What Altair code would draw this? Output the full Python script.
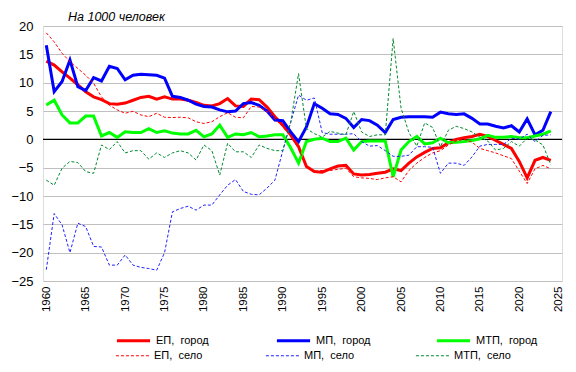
import altair as alt
import pandas as pd

years = list(range(1960, 2025))

ep_gorod = [13.8, 13.1, 11.9, 10.8, 9.6, 8.4, 7.5, 7.0, 6.3, 6.2,
            6.4, 6.9, 7.4, 7.6, 7.1, 7.5, 7.1, 7.1, 6.9, 6.5,
            6.0, 5.9, 6.3, 7.2, 5.9, 5.8, 7.1, 7.0, 5.7, 4.0,
            2.5, 0.8, -1.3, -4.8, -5.7, -5.8, -5.2, -4.7, -4.6, -6.1,
            -6.3, -6.2, -6.0, -5.8, -5.2, -5.5, -4.2, -3.1, -2.3, -1.6,
            -1.5, -0.6, 0.0, 0.3, 0.5, 0.9, 0.5, -0.2, -0.9, -1.6,
            -3.9, -6.8, -3.7, -3.2, -3.7]

ep_selo = [18.8, 17.2, 15.2, 13.7, 12.5, 11.3, 9.9, 7.5, 6.0, 5.2,
           4.6, 4.95, 4.3, 4.0, 4.6, 3.9, 3.85, 3.9, 3.8, 3.1,
           2.8, 3.1, 4.0, 4.7, 3.9, 3.8, 5.8, 5.7, 4.9, 3.6,
           2.2, 0.5, -1.6, -5.0, -5.6, -5.5, -5.5, -5.3, -5.1, -6.6,
           -6.8, -6.9, -7.1, -6.8, -6.6, -7.5, -5.5, -4.2, -3.2, -2.4,
           -2.0, -1.0, -0.3, 0.0, -0.5, -1.6, -2.0, -2.4, -2.9, -3.4,
           -5.6, -7.8, -5.2, -4.6, -5.2]

mp_gorod = [16.6, 8.4, 10.2, 14.0, 9.3, 8.6, 10.9, 10.3, 12.9, 12.5,
            10.5, 11.3, 11.5, 11.4, 11.3, 10.8, 7.6, 7.4, 6.9, 6.2,
            5.8, 5.7, 5.2, 4.85, 5.0, 6.3, 6.5, 6.0, 5.0, 3.4,
            3.3, 1.3, -0.4, 2.2, 6.3, 5.5, 4.5, 4.4, 3.7, 2.1,
            3.5, 3.3, 2.5, 1.2, 3.5, 3.9, 4.0, 4.0, 4.0, 3.9,
            4.8, 4.5, 4.4, 4.5, 3.7, 2.7, 2.7, 2.3, 2.0, 2.4,
            1.3, 3.6, 0.8, 1.6, 4.9]

mp_selo = [-23.0, -13.1, -15.1, -20.0, -14.8, -15.4, -18.9, -19.0, -22.2, -22.2,
           -20.4, -22.2, -22.6, -22.8, -23.1, -20.0, -12.8, -12.2, -11.8, -12.5,
           -11.6, -11.6, -9.8, -8.1, -7.1, -9.2, -9.7, -9.8, -8.6, -7.2,
           -2.0, 3.0, 7.8, 6.9, 7.3, 1.2, 0.9, 0.9, 0.9, 1.0,
           -0.4, -1.2, -1.1, -2.0, -3.0, -3.0, -2.8, -1.3, -1.3, -1.4,
           -6.0, -4.2, -4.2, -4.6, -3.1, -1.2, -0.9, -0.9, -0.9, 0.2,
           0.05, 0.9, -0.4, 0.7, 0.8]

mtp_gorod = [6.05, 6.9, 4.3, 2.9, 2.9, 4.1, 4.1, 0.6, 1.2, 0.35,
             1.35, 1.2, 1.2, 1.9, 1.2, 1.5, 1.1, 0.95, 0.95, 1.6,
             0.45, 0.95, 2.5, 0.35, 0.95, 0.8, 1.2, 0.45, 0.6, 0.8,
             0.8, -1.5, -4.2, -0.4, 0.0, 0.2, -0.4, -0.4, 0.2, -1.9,
             -0.4, -0.3, -0.3, -0.3, -6.6, -1.9, -0.4, 0.5, -0.8, -0.6,
             0.2, -0.6, -0.5, -0.4, -0.2, 0.1, 0.7, 0.35, 0.35, 0.5,
             0.3, 0.3, 0.6, 0.9, 1.5]

mtp_selo = [-7.2, -8.1, -5.1, -3.9, -4.1, -5.7, -6.0, -1.0, -1.8, -0.4,
            -2.4, -2.0, -2.0, -3.5, -2.4, -3.2, -2.4, -2.0, -2.4, -3.65,
            -1.0, -2.0, -6.3, -0.7, -2.2, -2.2, -3.2, -1.0, -1.6, -2.0,
            -2.0, 3.0, 11.6, 1.9, 1.0, 0.4, 1.4, 1.1, 0.8, 4.9,
            1.3, 0.5, 0.8, 0.8, 17.8, 5.5, 1.2, -1.2, 2.9, 2.1,
            -1.3, 1.6, 2.3, 1.9, 1.3, 0.4, -0.3, -1.9, -1.6, -0.4,
            -1.2, 0.2, -0.1, -1.0, -4.5]

NB = "\u00a0"
names_gorod = ["ЕП," + NB + " город", "МП," + NB + " город", "МТП," + NB + " город"]
names_selo = ["ЕП," + NB + " село", "МП," + NB + " село", "МТП," + NB + " село"]
colors_gorod = ["#ff0000", "#0000ff", "#00ff00"]
colors_selo = ["#ff0000", "#2020ff", "#008a30"]

y_ticks = list(range(-25, 25, 5))
x_ticks = list(range(1960, 2030, 5))

def long(names, arrays):
    rows = []
    for n, arr in zip(names, arrays):
        for yr, v in zip(years, arr):
            rows.append({"year": yr, "value": v, "series": n})
    return pd.DataFrame(rows)

df_g = long(names_gorod, [ep_gorod, mp_gorod, mtp_gorod])
df_s = long(names_selo, [ep_selo, mp_selo, mtp_selo])
zero_df = pd.DataFrame({"v": [0]})

LABEL_FONT = "Liberation Sans, Arial, sans-serif"
AX_FONT = "Liberation Sans, Arial, sans-serif"

xscale = alt.Scale(domain=[1959.58, 2025.42], nice=False, zero=False)
yscale = alt.Scale(domain=[-25, 20], nice=False)

x_axis = alt.Axis(values=x_ticks, format="d", labelAngle=270, grid=False,
                  ticks=False, domain=False, labelPadding=5, labelFontSize=11.5,
                  labelFont=AX_FONT, labelColor="black", title=None, labelOverlap=False)
y_axis = alt.Axis(values=y_ticks, grid=True, gridColor="#c0c0c0", gridWidth=1,
                  ticks=False, domain=False, labelPadding=10, labelFontSize=13,
                  labelFont=AX_FONT, labelColor="black", title=None, labelOverlap=False)

x_enc = alt.X("year:Q", scale=xscale, axis=x_axis)
y_enc = alt.Y("value:Q", scale=yscale, axis=y_axis)

def legend(x, y, sw, dash=None):
    kw = dict(orient="none", legendX=x, legendY=y, direction="horizontal",
              symbolType="stroke", symbolSize=1100, symbolStrokeWidth=sw,
              labelFont=LABEL_FONT, labelFontSize=11, labelColor="black",
              labelOffset=4, gridAlign="all", columnPadding=52, padding=0,
              title=None, labelLimit=200)
    if dash:
        kw["symbolDash"] = dash
    return alt.Legend(**kw)

zero = alt.Chart(zero_df).mark_rule(color="black", strokeWidth=1.3).encode(
    y=alt.Y("v:Q", scale=yscale, axis=y_axis))

solid = alt.Chart(df_g).mark_line(strokeWidth=3).encode(
    x=x_enc, y=y_enc,
    color=alt.Color("series:N",
                    scale=alt.Scale(domain=names_gorod, range=colors_gorod),
                    legend=legend(72, 296, 3)),
)

dashed = alt.Chart(df_s).mark_line(strokeWidth=1).encode(
    x=x_enc, y=y_enc,
    color=alt.Color("series:N",
                    scale=alt.Scale(domain=names_selo, range=colors_selo),
                    legend=legend(72, 312, 1, [3, 2])),
    strokeDash=alt.StrokeDash("series:N",
                              scale=alt.Scale(domain=names_selo, range=[[3, 2], [3, 2], [3, 2]]),
                              legend=None),
)

chart = alt.layer(zero, solid, dashed).resolve_scale(color="independent").properties(
    width=519, height=255,
    title=alt.TitleParams("На 1000 человек", anchor="start", frame="group", fontStyle="italic",
                          fontWeight="normal", fontSize=12.5, font=AX_FONT,
                          color="black", dx=25, offset=-3),
    autosize=alt.AutoSizeParams(type="none"),
    padding={"left": 35, "top": 18, "right": 6, "bottom": 90},
).configure_view(stroke="#808080", strokeWidth=1).configure(background="white")

chart.save("out.html", embed_options={"renderer": "svg", "actions": False})
